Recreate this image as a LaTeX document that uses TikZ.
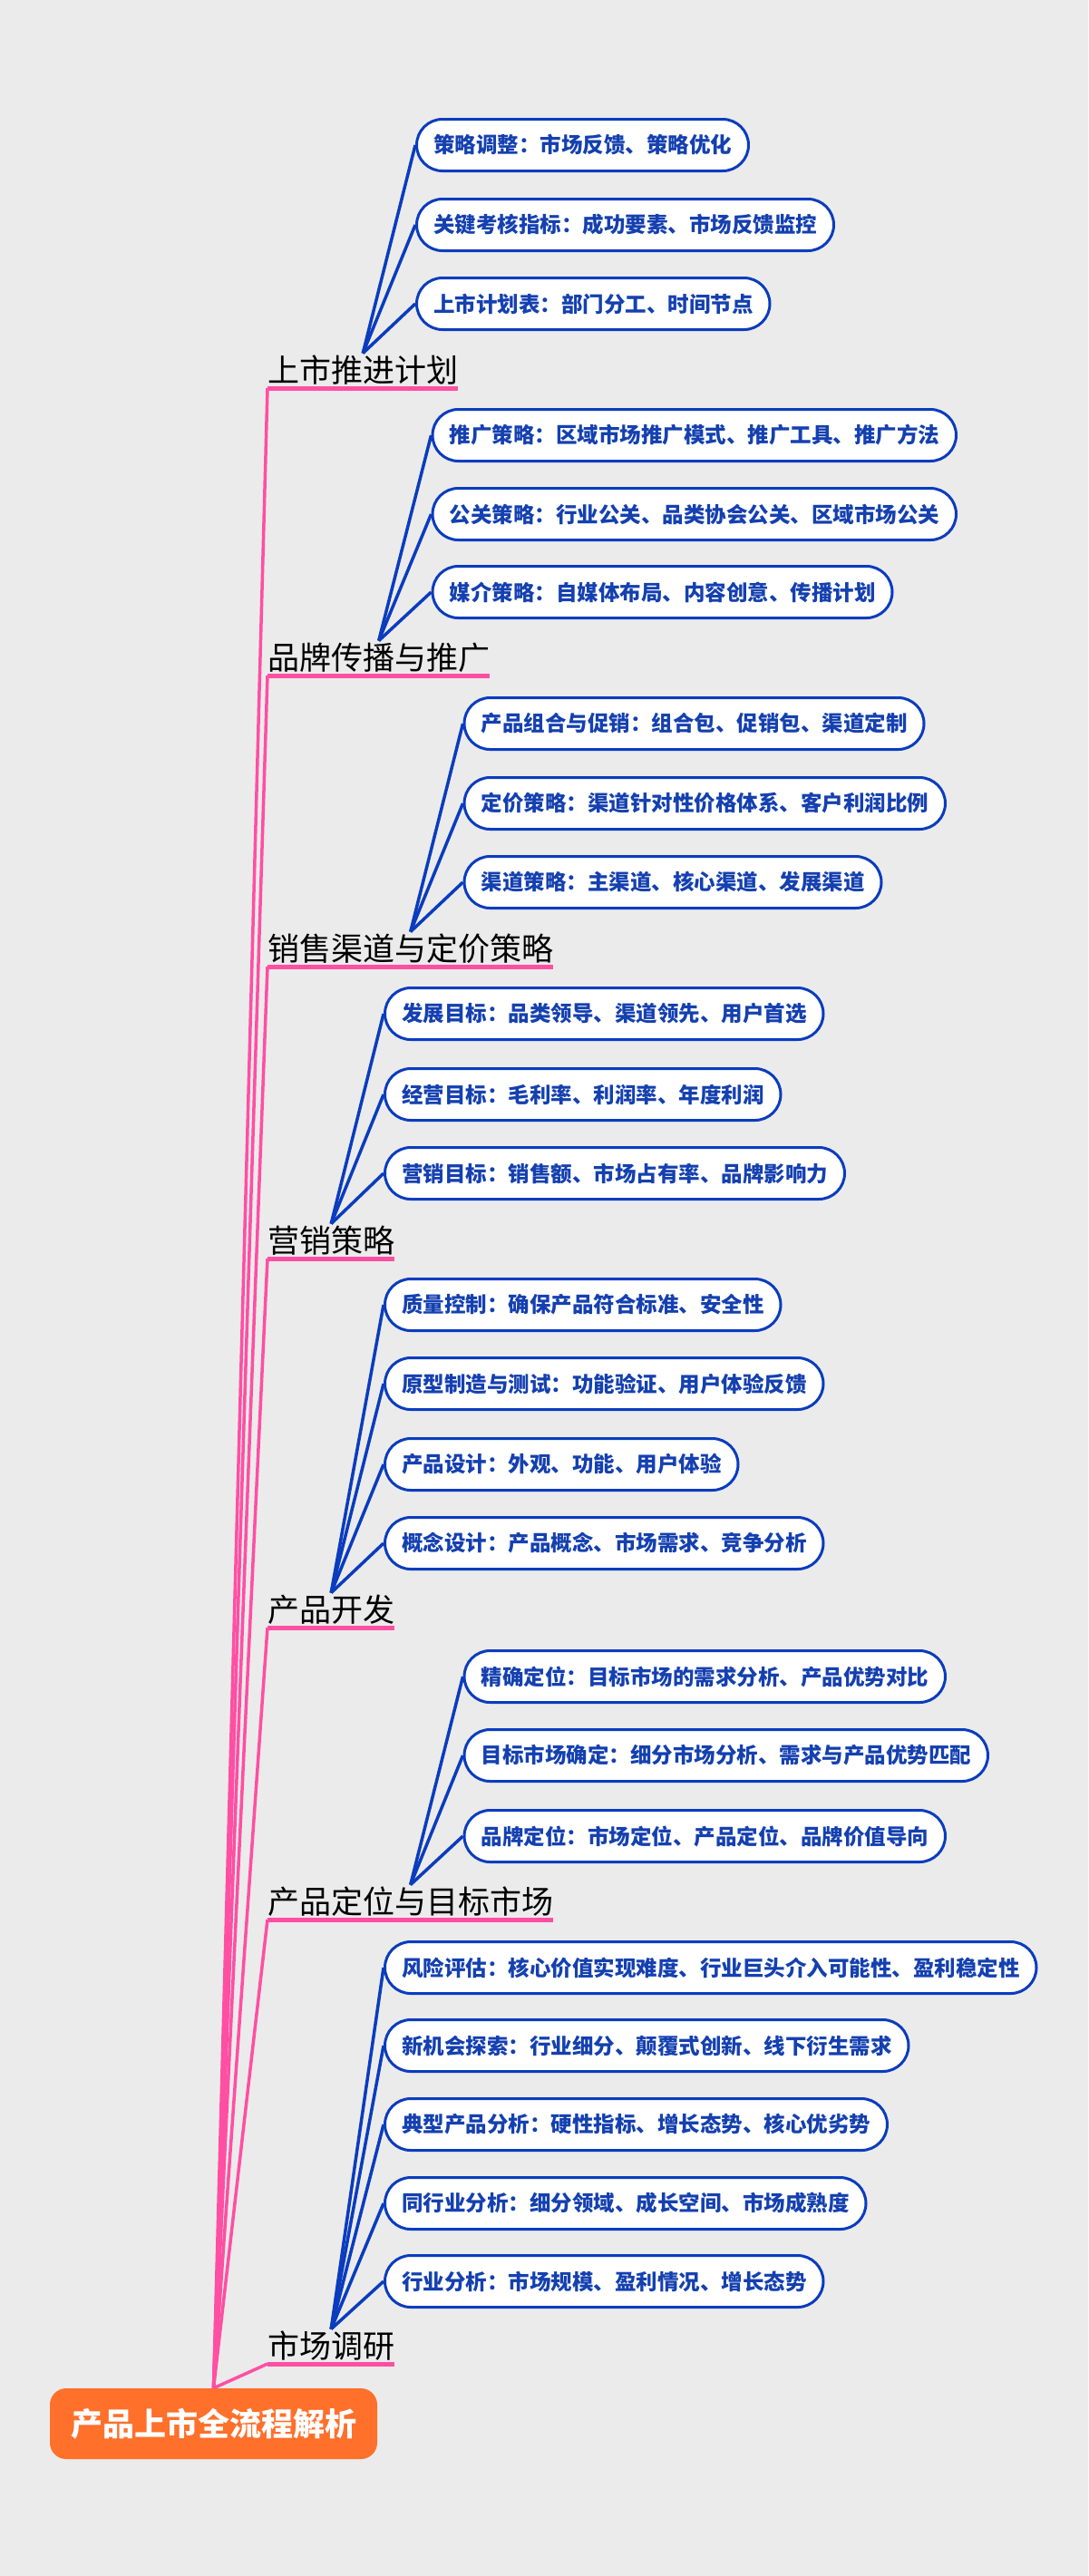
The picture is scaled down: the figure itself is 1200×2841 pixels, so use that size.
\documentclass[tikz,border=0pt]{standalone}
\usepackage{fontspec}
\setmainfont{Noto Sans CJK SC}
\usepackage{xcolor}
\usepackage{tikz}
\definecolor{paper}{HTML}{EBEBEB}
\definecolor{twigblue}{HTML}{0A3CBE}
\definecolor{leafblue}{HTML}{1440B0}
\definecolor{trunkpink}{HTML}{FF4FA3}
\definecolor{rootorange}{HTML}{FF702B}
\tikzset{
root/.style={
  fill=rootorange, text=white, rounded corners=18pt,
  minimum width=361pt, minimum height=78pt, inner sep=0pt,
  font=\fontsize{35}{40}\selectfont\bfseries
},
topic/.style={
  anchor=south west, inner sep=0pt,
  text height=32pt, text depth=6pt,
  font=\fontsize{35}{40}\selectfont
},
leaf/.style={
  anchor=west, draw=twigblue, line width=3pt, fill=white,
  rounded corners=28.5pt, minimum height=57pt,
  inner xsep=18.5pt, inner ysep=0pt, text=leafblue,
  font=\fontsize{23.5}{28}\selectfont\bfseries
},
twig/.style={draw=twigblue, line width=3.5pt},
trunk/.style={draw=trunkpink, line width=3.5pt},
uline/.style={draw=trunkpink, line width=5pt},
}

\begin{document}
\begin{tikzpicture}[x=1pt,y=-1pt]
\fill[paper] (0,0) rectangle (1200,2841);
\useasboundingbox (0,0) rectangle (1200,2841);

\node[root] (root) at (235.5,2673) {产品上市全流程解析};

% main topics
\node[topic] (t1) at (295,428)  {上市推进计划};
\node[topic] (t2) at (295,745)  {品牌传播与推广};
\node[topic] (t3) at (295,1066) {销售渠道与定价策略};
\node[topic] (t4) at (295,1388) {营销策略};
\node[topic] (t5) at (295,1795) {产品开发};
\node[topic] (t6) at (295,2117) {产品定位与目标市场};
\node[topic] (t7) at (295,2607) {市场调研};

% leaves
\node[leaf] (l1-1) at (458,160) {策略调整：市场反馈、策略优化};
\node[leaf] (l1-2) at (458,248) {关键考核指标：成功要素、市场反馈监控};
\node[leaf] (l1-3) at (458,335) {上市计划表：部门分工、时间节点};

\node[leaf] (l2-1) at (475.5,480) {推广策略：区域市场推广模式、推广工具、推广方法};
\node[leaf] (l2-2) at (475.5,567) {公关策略：行业公关、品类协会公关、区域市场公关};
\node[leaf] (l2-3) at (475.5,653) {媒介策略：自媒体布局、内容创意、传播计划};

\node[leaf] (l3-1) at (510.5,798) {产品组合与促销：组合包、促销包、渠道定制};
\node[leaf] (l3-2) at (510.5,886) {定价策略：渠道针对性价格体系、客户利润比例};
\node[leaf] (l3-3) at (510.5,973) {渠道策略：主渠道、核心渠道、发展渠道};

\node[leaf] (l4-1) at (423,1118) {发展目标：品类领导、渠道领先、用户首选};
\node[leaf] (l4-2) at (423,1207) {经营目标：毛利率、利润率、年度利润};
\node[leaf] (l4-3) at (423,1294) {营销目标：销售额、市场占有率、品牌影响力};

\node[leaf] (l5-1) at (423,1439) {质量控制：确保产品符合标准、安全性};
\node[leaf] (l5-2) at (423,1526) {原型制造与测试：功能验证、用户体验反馈};
\node[leaf] (l5-3) at (423,1615) {产品设计：外观、功能、用户体验};
\node[leaf] (l5-4) at (423,1702) {概念设计：产品概念、市场需求、竞争分析};

\node[leaf] (l6-1) at (510.5,1849) {精确定位：目标市场的需求分析、产品优势对比};
\node[leaf] (l6-2) at (510.5,1936) {目标市场确定：细分市场分析、需求与产品优势匹配};
\node[leaf] (l6-3) at (510.5,2025) {品牌定位：市场定位、产品定位、品牌价值导向};

\node[leaf] (l7-1) at (423,2170) {风险评估：核心价值实现难度、行业巨头介入可能性、盈利稳定性};
\node[leaf] (l7-2) at (423,2256) {新机会探索：行业细分、颠覆式创新、线下衍生需求};
\node[leaf] (l7-3) at (423,2343) {典型产品分析：硬性指标、增长态势、核心优劣势};
\node[leaf] (l7-4) at (423,2430) {同行业分析：细分领域、成长空间、市场成熟度};
\node[leaf] (l7-5) at (423,2516) {行业分析：市场规模、盈利情况、增长态势};

% the branches
\foreach \g/\n in {1/3,2/3,3/3,4/3,5/4,6/3,7/5}
{
  \draw[trunk] (root.north) -- (t\g.south west);
  \draw[uline] (t\g.south west) -- (t\g.south east);
  \foreach \i in {1,...,\n}
    \draw[twig] (t\g.north) -- (l\g-\i.west);
}
\end{tikzpicture}
\end{document}
